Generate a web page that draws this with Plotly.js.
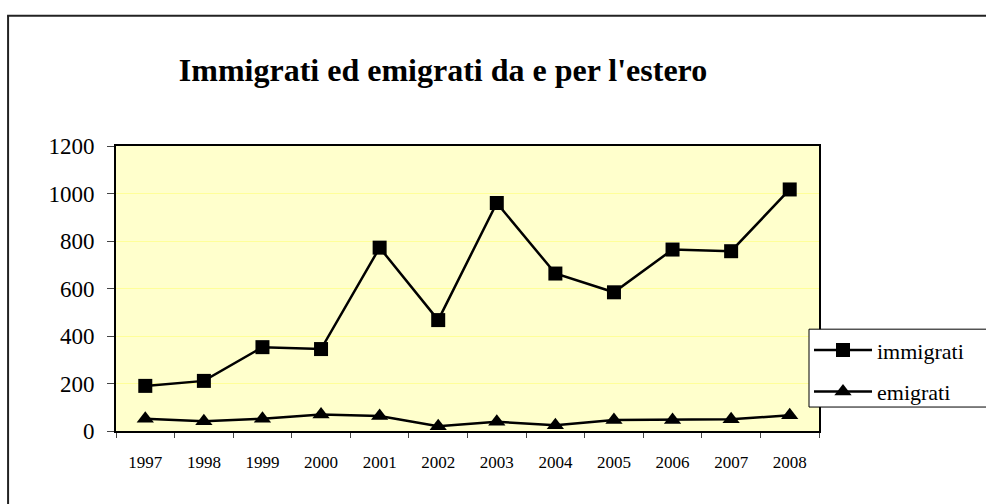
<!DOCTYPE html>
<html>
<head>
<meta charset="utf-8">
<script src="https://cdn.plot.ly/plotly-3.0.1.min.js"></script>
<style>html,body{margin:0;padding:0;background:#fff;}#chart{width:986px;height:504px;}</style>
</head>
<body>
<div id="chart"></div>
<script>
const years = ['1997','1998','1999','2000','2001','2002','2003','2004','2005','2006','2007','2008'];
const immigrati = [190, 211, 353, 345, 772, 467, 960, 663, 584, 764, 757, 1017];
const emigrati = [52, 41, 52, 69, 63, 20, 39, 24, 46, 46, 49, 66];
const yTicks = [0, 200, 400, 600, 800, 1000, 1200];

const serif = 'Liberation Serif';

const traces = [
  {
    x: years, y: immigrati, name: 'immigrati', type: 'scatter', mode: 'lines+markers',
    line: {color: '#000', width: 2.5},
    marker: {symbol: 'square', size: 14, color: '#000'},
    legendgroup: 'a'
  },
  {
    x: years, y: emigrati, name: 'emigrati', type: 'scatter', mode: 'lines+markers',
    line: {color: '#000', width: 2.5},
    marker: {symbol: 'triangle-up', size: 15, color: '#000'},
    legendgroup: 'b'
  }
];

const L = 115.5, R = 819, T = 145.5, B = 431;
const W = 986, H = 504;
const pw = R - L, ph = B - T;
const px = v => (v - L) / pw;
const py = v => (B - v) / ph;

const layout = {
  width: W, height: H,
  margin: {l: L, r: W - R, t: T, b: H - B, pad: 0},
  paper_bgcolor: '#fff',
  plot_bgcolor: '#FFFFCC',
  showlegend: true,
  title: {
    text: "<b>Immigrati ed emigrati da e per l'estero</b>",
    font: {family: serif, size: 32, color: '#000'},
    x: 443 / W, xref: 'container', xanchor: 'center',
    y: 1 - 70 / H, yref: 'container', yanchor: 'middle'
  },
  xaxis: {
    type: 'category',
    range: [-0.5, 11.5],
    tickson: 'boundaries',
    ticks: 'outside', ticklen: 5, tickwidth: 1, tickcolor: '#444',
    showline: true, linecolor: '#000', linewidth: 2, mirror: true,
    showgrid: false, zeroline: false,
    tickfont: {family: serif, size: 17, color: '#000'},
    ticklabelstandoff: 15,
    fixedrange: true
  },
  yaxis: {
    range: [0, 1200],
    tickvals: yTicks,
    ticktext: yTicks.map(String),
    ticks: 'outside', ticklen: 7, tickwidth: 1, tickcolor: '#444',
    showline: true, linecolor: '#000', linewidth: 2, mirror: true,
    showgrid: true, gridcolor: '#FFFF99', gridwidth: 1,
    zeroline: false,
    tickfont: {family: serif, size: 23, color: '#000'},
    ticklabelstandoff: 8,
    fixedrange: true
  },
  legend: {
    x: px(809), xanchor: 'left',
    y: py(329), yanchor: 'top',
    bgcolor: 'rgba(0,0,0,0)', borderwidth: 0,
    font: {family: serif, size: 22, color: '#000'},
    traceorder: 'grouped', tracegroupgap: 10,
    itemwidth: 58
  },
  shapes: [
    {type: 'line', xref: 'paper', yref: 'paper', x0: px(7.5), x1: px(7.5), y0: py(15), y1: py(520), line: {color: '#222', width: 2}},
    {type: 'line', xref: 'paper', yref: 'paper', x0: px(6.5), x1: px(1000), y0: py(15), y1: py(15), line: {color: '#222', width: 2}},
    {type: 'rect', layer: 'above', xref: 'paper', yref: 'paper', x0: px(809), x1: px(1000), y0: py(407), y1: py(329), fillcolor: '#fff', line: {color: '#000', width: 1}}
  ]
};

Plotly.newPlot('chart', traces, layout, {displayModeBar: false, staticPlot: true});
</script>
</body>
</html>
